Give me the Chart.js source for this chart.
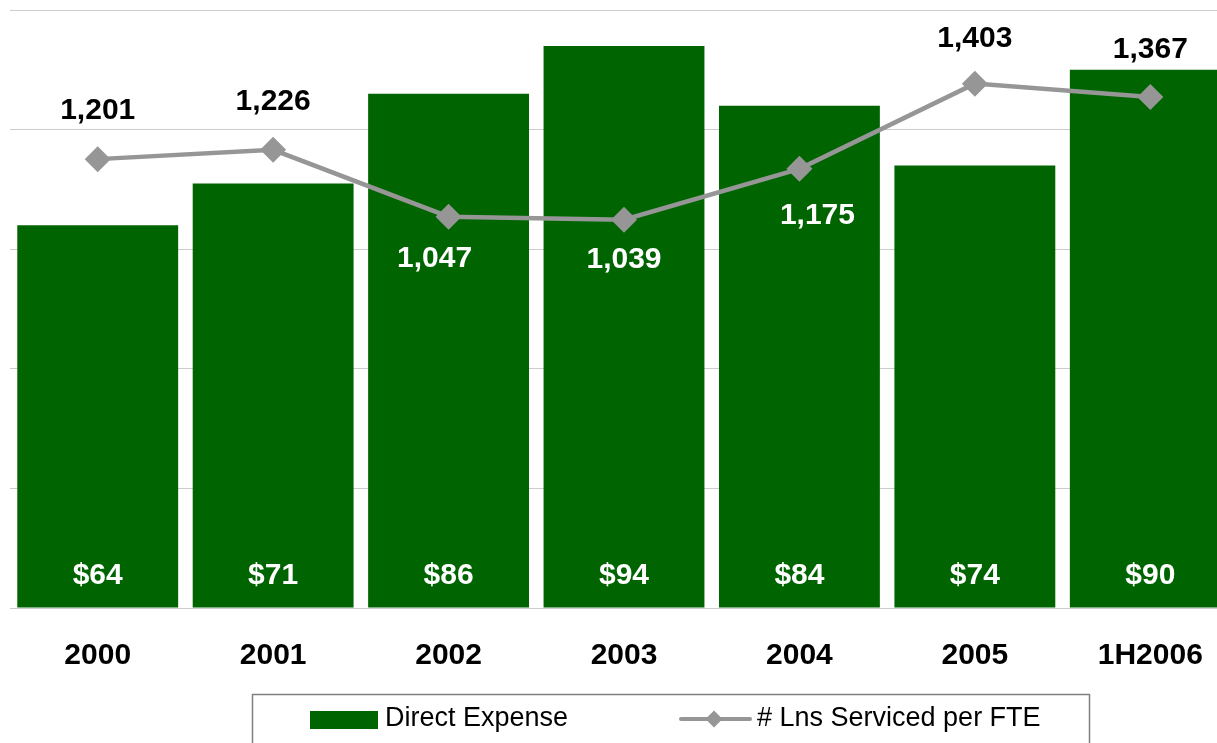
<!DOCTYPE html>
<html>
<head>
<meta charset="utf-8">
<title>Direct Expense and Loans Serviced per FTE</title>
<script src="https://cdn.jsdelivr.net/npm/chart.js@4.4.1/dist/chart.umd.min.js"></script>
<style>
  html, body { margin: 0; padding: 0; background: #ffffff; overflow: hidden; }
  canvas { display: block; }
</style>
</head>
<body>
<canvas id="chart" width="1250" height="743"></canvas>
<script>
// ---- data ----
const categories = ['2000', '2001', '2002', '2003', '2004', '2005', '1H2006'];
const directExpense = [64, 71, 86, 94, 84, 74, 90];          // $ millions
const loansPerFTE = [1201, 1226, 1047, 1039, 1175, 1403, 1367];
const expenseAxis = { min: 0, max: 100, step: 20 };
const loansAxis = { min: 0, max: 1600 };
const seriesNames = ['Direct Expense', '# Lns Serviced per FTE'];

// ---- styling ----
const GREEN = '#006400';
const GREY = '#969696';
const FONT = '"Liberation Sans", Arial, Helvetica, sans-serif';
// pixel nudges of each loan-count label from its point (negative dy = above)
const loanLabelDx = [0, 0, -14, 0, 18, 0, 0];
const loanLabelDy = [-48, -48, 42, 40, 47, -45, -47];

// value labels: dollar amounts inside the bars, loan counts by the points
const valueLabels = {
  id: 'valueLabels',
  afterDatasetsDraw(chart) {
    const ctx = chart.ctx;
    ctx.save();
    ctx.font = `bold 30px ${FONT}`;
    ctx.textAlign = 'center';
    ctx.textBaseline = 'middle';
    chart.getDatasetMeta(0).data.forEach((bar, i) => {
      ctx.fillStyle = '#ffffff';
      ctx.fillText('$' + directExpense[i], bar.x, bar.base - 32);
    });
    chart.getDatasetMeta(1).data.forEach((pt, i) => {
      const above = loanLabelDy[i] < 0;
      ctx.fillStyle = above ? '#000000' : '#ffffff';
      ctx.fillText(loansPerFTE[i].toLocaleString('en-US'), pt.x + loanLabelDx[i], pt.y + loanLabelDy[i]);
    });
    ctx.restore();
  }
};

// boxed legend below the category labels
const boxedLegend = {
  id: 'boxedLegend',
  afterDraw(chart) {
    const ctx = chart.ctx;
    const ds = chart.data.datasets;
    ctx.save();
    // frame
    ctx.strokeStyle = '#808080';
    ctx.lineWidth = 1.5;
    ctx.strokeRect(252.5, 694.5, 837, 80);

    ctx.font = `27px ${FONT}`;
    ctx.textAlign = 'left';
    ctx.textBaseline = 'middle';

    // bar series swatch
    ctx.fillStyle = ds[0].backgroundColor;
    ctx.fillRect(310, 711, 68, 18);
    ctx.fillStyle = '#000000';
    ctx.fillText(ds[0].label, 385, 719);

    // line series sample
    ctx.strokeStyle = ds[1].borderColor;
    ctx.lineWidth = 4;
    ctx.lineCap = 'round';
    ctx.beginPath();
    ctx.moveTo(681, 719);
    ctx.lineTo(750, 719);
    ctx.stroke();
    ctx.fillStyle = ds[1].borderColor;
    ctx.beginPath();
    ctx.moveTo(714, 710.5);
    ctx.lineTo(722.5, 719);
    ctx.lineTo(714, 727.5);
    ctx.lineTo(705.5, 719);
    ctx.closePath();
    ctx.fill();
    ctx.fillStyle = '#000000';
    ctx.fillText(ds[1].label, 757, 719);
    ctx.restore();
  }
};

new Chart(document.getElementById('chart'), {
  data: {
    labels: categories,
    datasets: [
      {
        type: 'bar',
        label: seriesNames[0],
        data: directExpense,
        backgroundColor: GREEN,
        borderWidth: 0,
        categoryPercentage: 1.0,
        barPercentage: 0.917,
        yAxisID: 'y',
        order: 2
      },
      {
        type: 'line',
        label: seriesNames[1],
        data: loansPerFTE,
        borderColor: GREY,
        backgroundColor: GREY,
        borderWidth: 4.5,
        tension: 0,
        pointStyle: 'rectRot',
        pointRadius: 13,
        pointHoverRadius: 13,
        pointBackgroundColor: GREY,
        pointBorderWidth: 0,
        yAxisID: 'y1',
        order: 1
      }
    ]
  },
  options: {
    responsive: false,
    animation: false,
    devicePixelRatio: 1,
    layout: { autoPadding: false, padding: { top: 10, left: 10, right: 12, bottom: 39 } },
    plugins: {
      legend: { display: false },
      tooltip: { enabled: false }
    },
    scales: {
      x: {
        type: 'category',
        offset: true,
        grid: { display: false, drawTicks: false },
        border: { display: false },
        ticks: {
          color: '#000000',
          padding: 30,
          maxRotation: 0,
          autoSkip: false,
          font: { family: FONT, size: 30, weight: 'bold' }
        }
      },
      y: {
        position: 'left',
        min: expenseAxis.min,
        max: expenseAxis.max,
        ticks: { display: false, stepSize: expenseAxis.step },
        grid: { color: '#cccccc', lineWidth: 1, drawTicks: false },
        border: { display: false }
      },
      y1: {
        position: 'right',
        display: false,
        min: loansAxis.min,
        max: loansAxis.max
      }
    }
  },
  plugins: [valueLabels, boxedLegend]
});
</script>
</body>
</html>
